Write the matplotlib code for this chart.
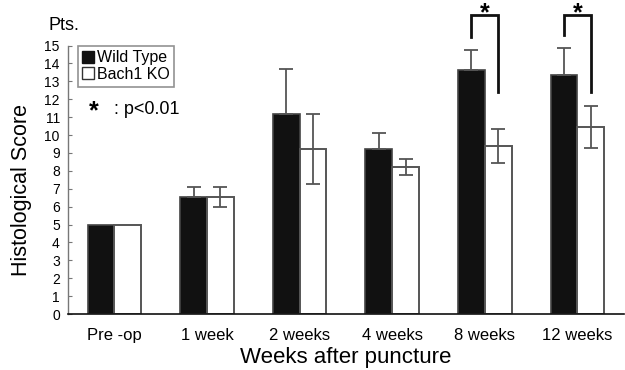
import matplotlib
matplotlib.use("Agg")
import matplotlib.pyplot as plt
import numpy as np
from matplotlib.lines import Line2D

categories = ["Pre -op", "1 week", "2 weeks", "4 weeks", "8 weeks", "12 weeks"]
wt_mean = [5.0, 6.55, 11.2, 9.2, 13.65, 13.35]
wt_err = [0.0, 0.55, 2.5, 0.9, 1.1, 1.5]
ko_mean = [5.0, 6.55, 9.2, 8.2, 9.4, 10.45]
ko_err = [0.0, 0.55, 1.95, 0.45, 0.95, 1.15]
yticks = list(range(0, 16))
# significance brackets: (group index, top, left leg bottom, right leg bottom)
sig_groups = [4, 5]
sig_top = [16.7, 16.7]
sig_left = [15.5, 15.6]
sig_right = [12.4, 12.4]

font = ["Liberation Sans", "DejaVu Sans"]
narrow = ["Liberation Sans Narrow", "Liberation Sans", "DejaVu Sans"]
plt.rcParams['font.family'] = font

fig = plt.figure(figsize=(6.25, 3.7), dpi=100)
ax = fig.add_axes([0.109, 0.151, 0.889, 0.726])

x = np.arange(len(categories))
w = 0.29
ax.bar(x - w / 2, wt_mean, w, color="#111111", edgecolor="#444444", linewidth=1.2, zorder=2)
ax.bar(x + w / 2, ko_mean, w, color="white", edgecolor="#555555", linewidth=1.4, zorder=2)

wt_idx = [i for i in range(len(x)) if wt_err[i] > 0]
ko_idx = [i for i in range(len(x)) if ko_err[i] > 0]
ax.errorbar(x[wt_idx] - w / 2, [wt_mean[i] for i in wt_idx],
            yerr=[[0] * len(wt_idx), [wt_err[i] for i in wt_idx]],
            fmt="none", ecolor="#555555", elinewidth=1.3, capsize=5, capthick=1.3, zorder=3)
ax.errorbar(x[ko_idx] + w / 2, [ko_mean[i] for i in ko_idx],
            yerr=[ko_err[i] for i in ko_idx],
            fmt="none", ecolor="#555555", elinewidth=1.3, capsize=5, capthick=1.3, zorder=3)

for g, t, l, r in zip(sig_groups, sig_top, sig_left, sig_right):
    ax.plot([g - w / 2, g - w / 2, g + w / 2, g + w / 2], [l, t, t, r],
            color="#111111", lw=2, clip_on=False, zorder=4, solid_joinstyle="miter")
    ax.text(g, t + 0.12, "*", ha="center", va="center", fontsize=18,
            fontweight="bold", clip_on=False)

ax.set_xlim(-0.5, len(categories) - 0.5)
ax.set_ylim(0, 15)
ax.set_yticks(yticks)
ax.set_yticklabels([str(v) for v in yticks], fontsize=10, family=narrow)
ax.set_xticks(x)
ax.set_xticklabels(categories, fontsize=12)
ax.tick_params(axis="x", length=0, pad=10)
ax.tick_params(axis="y", direction="in", length=3, color="#777777", pad=6)

for s in ["top", "right"]:
    ax.spines[s].set_visible(False)
ax.spines["left"].set_color("#777777")
ax.spines["left"].set_linewidth(1.0)
ax.spines["bottom"].set_color("#111111")
ax.spines["bottom"].set_linewidth(1.2)

ax.set_xlabel("Weeks after puncture", fontsize=16, labelpad=3)
fig.text(0.035, 0.486, "Histological Score", rotation=90, ha="center", va="center", fontsize=15.5)
fig.text(0.077, 0.932, "Pts.", ha="left", va="center", fontsize=13)

handles = [
    Line2D([], [], marker="s", linestyle="none", markersize=9, markerfacecolor="#111111",
           markeredgecolor="#111111"),
    Line2D([], [], marker="s", linestyle="none", markersize=9, markerfacecolor="white",
           markeredgecolor="#333333", markeredgewidth=1),
]
leg = ax.legend(handles, ["Wild Type", "Bach1 KO"], loc="upper left",
                bbox_to_anchor=(0.017, 1.0), frameon=True, fancybox=False,
                prop={"family": narrow, "size": 11.5}, handlelength=0.7, handletextpad=0.2,
                borderpad=0.3, labelspacing=0.1, borderaxespad=0.0)
leg.get_frame().set_edgecolor("#777777")
leg.get_frame().set_linewidth(1.2)

fig.text(0.142, 0.700, "*", ha="left", va="center", fontsize=18, fontweight="bold")
fig.text(0.183, 0.703, ": p<0.01", ha="left", va="center", fontsize=13)

fig.savefig("out.png", dpi=100)
